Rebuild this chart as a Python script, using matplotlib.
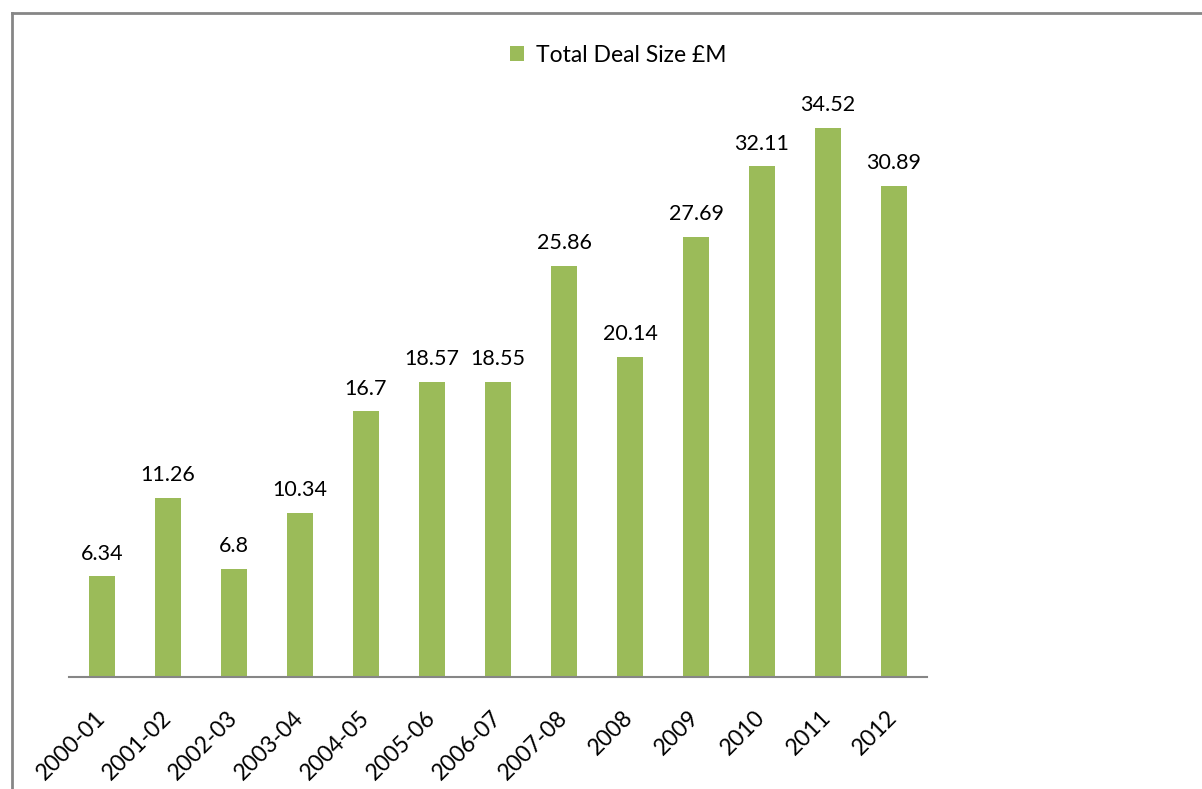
import matplotlib
matplotlib.use("Agg")
import matplotlib.pyplot as plt
from matplotlib.lines import Line2D

categories = ["2000-01", "2001-02", "2002-03", "2003-04", "2004-05", "2005-06",
              "2006-07", "2007-08", "2008", "2009", "2010", "2011", "2012"]
values = [6.34, 11.26, 6.8, 10.34, 16.7, 18.57, 18.55, 25.86, 20.14, 27.69, 32.11, 34.52, 30.89]
labels = ["6.34", "11.26", "6.8", "10.34", "16.7", "18.57", "18.55", "25.86", "20.14",
          "27.69", "32.11", "34.52", "30.89"]
series_name = "Total Deal Size £M"

plt.rcParams['font.family'] = ['Lato', 'DejaVu Sans']

W, H = 1202, 789
fig = plt.figure(figsize=(W / 100, H / 100), dpi=100)
green = "#9BBB59"
gray = "#868686"

left, right, top, bottom = 69, 927, 41, 677
ax = fig.add_axes([left / W, 1 - bottom / H, (right - left) / W, (bottom - top) / H])
x = range(len(categories))
bars = ax.bar(x, values, width=0.4, color=green, label=series_name)
ax.set_xlim(-0.5, len(categories) - 0.5)
ax.set_ylim(0, 40)
for xi, v, t in zip(x, values, labels):
    ax.annotate(t, (xi, v), xytext=(0, 12), textcoords="offset points",
                ha="center", va="baseline", fontsize=15.5, color="black")

for s in ["top", "right", "left"]:
    ax.spines[s].set_visible(False)
ax.spines["bottom"].set_color(gray)
ax.spines["bottom"].set_linewidth(1.5)
ax.set_yticks([])
ax.set_xticks(list(x))
ax.set_xticklabels(categories, rotation=45, ha="right", va="center",
                   rotation_mode="anchor", fontsize=16.5)
ax.tick_params(axis="x", length=0, pad=27)

leg = ax.legend(loc="center",
                bbox_to_anchor=((618 - left) / (right - left), 1 - (55 - top) / (bottom - top)),
                frameon=False, fontsize=16.5, handlelength=0.65, handleheight=0.65,
                handletextpad=0.5, borderpad=0)

# figure border (left and top visible)
fig.add_artist(Line2D([12 / W, 12 / W], [0, 1 - 13 / H], transform=fig.transFigure,
                      color=gray, linewidth=2))
fig.add_artist(Line2D([12 / W, 1], [1 - 13 / H, 1 - 13 / H], transform=fig.transFigure,
                      color=gray, linewidth=2))

fig.savefig("out.png", dpi=100)
